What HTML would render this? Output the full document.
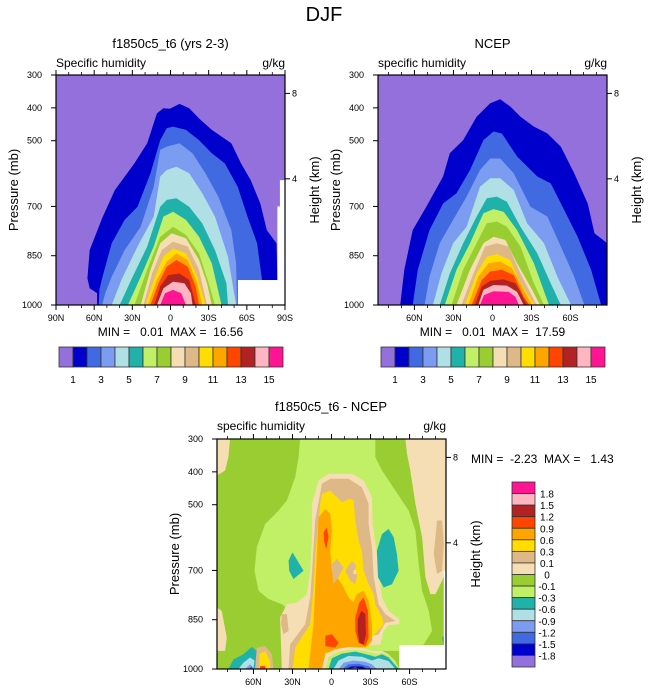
<!DOCTYPE html>
<html><head><meta charset="utf-8">
<style>
html,body{margin:0;padding:0;background:#fff;}
svg{display:block;font-family:"Liberation Sans",Arial,sans-serif;}
</style></head>
<body>
<svg id="chart" width="648" height="694" viewBox="0 0 648 694" xmlns="http://www.w3.org/2000/svg">
<defs>
<clipPath id="clipTL"><rect x="56" y="75" width="229" height="230"/></clipPath>
<clipPath id="clipTR"><rect x="378" y="75" width="229" height="230"/></clipPath>
<clipPath id="clipDF"><rect x="217" y="439" width="229" height="230"/></clipPath>
</defs>
<text x="324" y="21" font-size="20" text-anchor="middle">DJF</text>
</svg>
<script>
// ---------- data ----------
const colors = ["#9370DB","#0000CD","#4169E1","#7B9CF0","#B0E0E6","#20B2AA","#C1EF66","#9ACD32","#F5DEB3","#DEB887","#FFDD00","#FFA500","#FF4500","#B22222","#FFB6C1","#FF1493"];
const topLevelLabels = ["1","3","5","7","9","11","13","15"];
const topLevelLabelIdx = [1,3,5,7,9,11,13,15];
const diffLevelLabels = ["1.8","1.5","1.2","0.9","0.6","0.3","0.1","0","-0.1","-0.3","-0.6","-0.9","-1.2","-1.5","-1.8"];
const pressureTicks = [300,400,500,700,850,1000];
const heightTicks = ["8","4"];
const heightTickP = [356,616];
const latTicksTL = [90,60,30,0,-30,-60,-90];
const latLabelsTL = ["90N","60N","30N","0","30S","60S","90S"];
const latTicksNC = [60,30,0,-30,-60];
const latLabelsNC = ["60N","30N","0","30S","60S"];
const minorLat = [80,70,50,40,20,10,-10,-20,-40,-50,-70,-80];

// model: boundary of each level k (region >= k), [lat, pressure]
const tlLevels = [
 [[57.7,1000],[57.7,964],[63.5,949],[65.3,919],[63.5,833],[53.8,736],[43.7,650],[28.4,569],[18.3,508],[10.7,417],[5.6,401],[0.5,403],[-7.1,388],[-14.7,401],[-22.4,432],[-32.5,467],[-47.8,508],[-55.4,569],[-63,620],[-70.6,691],[-75.7,772],[-83.3,812],[-84.6,1000]],
 [[56.4,1000],[55.9,954],[53.8,919],[46.2,812],[36.1,741],[25.9,701],[15.7,599],[8.1,498],[3,462],[-2,457],[-12.2,467],[-22.4,498],[-32.5,538],[-42.7,569],[-52.8,640],[-60.5,731],[-68.1,812],[-71.9,924],[-73.2,1000]],
 [[53.8,1000],[51.3,964],[46.2,914],[36.1,833],[23.4,762],[13.2,640],[8.1,528],[3,518],[-7.1,508],[-17.3,538],[-27.4,599],[-37.6,670],[-47.8,772],[-51.6,873],[-52.3,1000]],
 [[46.2,1000],[38.6,924],[25.9,822],[13.2,731],[8.1,609],[3,589],[-4.6,579],[-14.7,599],[-24.9,660],[-35,731],[-45.2,853],[-51.6,1000]],
 [[39.9,1000],[31,924],[18.3,822],[8.1,701],[3,680],[-4.6,675],[-14.7,701],[-24.9,751],[-35,833],[-43.9,934],[-45.2,1000]],
 [[33.5,1000],[23.4,914],[13.2,822],[5.6,731],[-2,716],[-12.2,741],[-22.4,792],[-32.5,873],[-40.1,1000]],
 [[28.4,1000],[18.3,893],[8.1,792],[-2,762],[-12.2,787],[-22.4,843],[-30,934],[-35,1000]],
 [[23.4,1000],[15.7,893],[8.1,812],[-0.8,782],[-12.2,797],[-22.4,863],[-28.7,934],[-32.5,1000]],
 [[21.3,1000],[14.5,904],[6.9,833],[-2,807],[-13.5,822],[-22.4,893],[-28.7,1000]],
 [[19.6,1000],[13.2,924],[5.6,853],[-2,828],[-12.2,843],[-21.1,914],[-27.4,1000]],
 [[17.8,1000],[10.7,924],[3,868],[-4.6,843],[-13.5,863],[-21.1,934],[-24.9,1000]],
 [[15.7,1000],[9.4,934],[3,883],[-4.6,863],[-13.5,883],[-19.8,944],[-22.4,1000]],
 [[12.7,1000],[8.1,944],[1.8,909],[-7.1,904],[-14.7,924],[-19.8,1000]],
 [[10.7,1000],[5.6,949],[-2,929],[-10.9,934],[-16,964],[-17.3,1000]],
 [[8.1,1000],[4.3,964],[-2,954],[-8.4,964],[-12.2,1000]]
];
// NCEP
const trLevels = [
 [[70.9,1000],[67.8,893],[61.3,772],[50.9,701],[38,609],[32.8,538],[22.5,498],[12.2,427],[1.8,386],[-5.9,374],[-13.7,396],[-21.5,427],[-31.8,457],[-42.2,478],[-52.5,518],[-62.8,599],[-73.2,691],[-78.4,782],[-84.9,802],[-88,812],[-88,1000]],
 [[61.3,1000],[57.4,893],[48.4,772],[38,691],[27.7,660],[17.3,589],[7,498],[-0.8,472],[-7.2,478],[-18.9,548],[-34.4,609],[-44.7,630],[-55.1,711],[-65.4,792],[-75.8,893],[-83.5,1000]],
 [[52.2,1000],[48.4,914],[40.6,812],[30.3,741],[19.9,670],[9.6,589],[1.8,554],[-5.9,554],[-16.3,599],[-29.2,701],[-42.2,731],[-52.5,822],[-62.8,914],[-70.6,1000]],
 [[45.8,1000],[39.3,904],[30.3,812],[19.9,762],[9.6,640],[1.8,614],[-5.9,614],[-16.3,650],[-26.6,751],[-39.6,812],[-49.9,914],[-60.3,1000]],
 [[40.6,1000],[32.8,904],[22.5,812],[12.2,731],[4.4,675],[-3.4,670],[-11.1,686],[-21.5,762],[-34.4,843],[-44.7,934],[-52.5,1000]],
 [[36.7,1000],[27.7,893],[17.3,812],[7,721],[-0.8,708],[-8.5,716],[-18.9,772],[-31.8,873],[-43.4,1000]],
 [[31.5,1000],[22.5,893],[12.2,812],[4.4,751],[-3.4,746],[-11.1,762],[-21.5,822],[-31.8,934],[-39.6,1000]],
 [[27.7,1000],[17.3,893],[7,812],[-0.8,792],[-9.8,802],[-18.9,873],[-30,950],[-36.5,1000]],
 [[23.8,1000],[14.7,904],[5.7,822],[-3.4,812],[-12.4,822],[-21.5,904],[-33.9,1000]],
 [[21.2,1000],[12.2,904],[4.4,853],[-3.4,845],[-13.7,863],[-21.5,934],[-32.3,1000]],
 [[18.6,1000],[10.9,914],[3.1,873],[-5.9,868],[-15,888],[-24,954],[-30.5,1000]],
 [[16,1000],[8.3,924],[1.8,898],[-7.2,893],[-16.3,909],[-24,975],[-28.4,1000]],
 [[13.4,1000],[8.3,944],[1.8,926],[-8.5,922],[-17.6,934],[-26.6,1000]],
 [[10.9,1000],[7,954],[-0.8,939],[-11.1,941],[-18.9,960],[-24,1000]],
 [[9.6,1000],[6.5,970],[-0.8,958],[-12.4,960],[-17.6,975],[-20.2,1000]]
];
// difference: background color index, then filled regions (color index + polygon in [lat,p])
const diffBackground = 7;
const diffRegionColor = [6,8,8,9,8,8,9,9,10,11,11,12,13,12,12,9,9,8,5,5,5,8,6,5,4,3,2,1,0,5,4,3,2,9,10,12];
const diffRegions = [
 [[24.1,300],[-33.7,300],[-33.7,355],[-38.8,396],[-49.1,457],[-59.3,518],[-64.5,579],[-67,681],[-69.6,762],[-74.7,823],[-77.3,884],[-70.9,925],[-54.2,945],[12.5,945],[17.7,874],[27.9,833],[38.2,803],[48.4,787],[56.1,762],[59.2,701],[57.4,630],[51,559],[40.7,518],[34.3,487],[27.9,416],[25.3,355]],
 [[88,300],[78,300],[79.2,355],[81.8,396],[88,411]],
 [[-56.8,300],[-88,300],[-88,701],[-85,731],[-79.9,772],[-76,772],[-72.2,721],[-69.6,599],[-64.5,497],[-60.6,396],[-58,345]],
 [[-81.1,548],[-85,548],[-86.3,620],[-85,701],[-81.1,711],[-78.6,650]],
 [[88,813],[84.4,823],[80.5,904],[81.8,945],[88,945]],
 [[15.1,497],[9.9,426],[2.3,406],[-15.7,406],[-24.7,426],[-31.1,477],[-31.6,559],[-34.2,630],[-36.7,721],[-38.8,782],[-43.9,823],[-52.1,848],[-52.1,864],[-43.9,866],[-40.1,884],[-37.5,925],[2.3,945],[7.4,1000],[38.2,1000],[39.5,843],[34.3,803],[26.6,798],[18.9,772],[16.4,701],[15.1,599]],
 [[12.5,548],[7.4,436],[1,421],[-13.1,421],[-23.4,447],[-28.5,497],[-28.5,559],[-31.1,630],[-32.4,721],[-36.2,803],[-41.4,833],[-49.1,854],[-41.4,859],[-36.2,894],[4.8,945],[9.9,1000],[33,1000],[31.8,925],[20.2,864],[16.4,782],[14.6,681]],
 [[38.2,833],[34.3,833],[33,884],[36.9,894],[38.7,864]],
 [[12.5,650],[8.7,497],[7.4,467],[1,457],[-8,492],[-14.4,482],[-17,487],[-18.3,548],[-20.8,609],[-23.4,640],[-24.7,701],[-28.5,742],[-32.4,772],[-33.7,803],[-38.8,843],[-40.1,864],[-31.1,904],[-28.5,935],[-8,935],[6.1,965],[7.4,1000],[30,1000],[27.9,935],[16.4,864],[13.8,752]],
 [[9.9,538],[4.8,513],[1,528],[-0.3,579],[1,640],[-0.3,701],[-8,742],[-13.1,782],[-18.3,803],[-18.3,864],[-24.7,904],[-28.5,925],[-20.8,940],[4.8,950],[6.1,1000],[17.7,1000],[13.8,864],[12.5,752],[11.2,650]],
 [[-15.7,803],[-19.6,772],[-24.7,762],[-28.5,792],[-31.1,864],[-31.1,915],[-26,935],[-18.3,925],[-14.4,884],[-13.1,843]],
 [[-18.3,843],[-21.4,798],[-24.7,782],[-28,823],[-28.5,904],[-26,930],[-20.8,920],[-18.3,884]],
 [[-20.3,848],[-22.9,823],[-26,833],[-26.5,894],[-24.7,925],[-21.4,920],[-20.3,884]],
 [[6.1,584],[3.5,569],[2.3,599],[4.1,635],[5.8,609]],
 [[4.8,899],[-0.3,894],[-5.4,920],[-2.9,935],[4.8,930]],
 [[-0.3,681],[-4.2,665],[-9.3,691],[-5.4,721],[-1.6,742],[-0.8,711]],
 [[-10.6,701],[-15.7,670],[-18.3,681],[-19.6,721],[-18.3,742],[-14.4,731]],
 [[-17,701],[-18.8,696],[-19,711],[-17,711]],
 [[33,670],[30,645],[25.3,676],[21.5,701],[29.2,726],[32.5,701]],
 [[-34.9,640],[-38.8,589],[-43.9,574],[-47.8,599],[-50.3,650],[-51.6,701],[-46.5,742],[-40.1,752],[-35.7,721]],
 [[-85,904],[-88,894],[-88,935],[-86.3,935]],
 [[7.4,1000],[4.8,955],[-2.9,940],[-13.1,933],[-23.4,935],[-31.1,945],[-38.8,945],[-43.9,955],[-49.1,976],[-52.1,1000]],
 [[4.8,1000],[2.3,963],[-5.4,947],[-15.7,941],[-26,945],[-33.7,953],[-40.1,951],[-45.2,961],[-50.3,986],[-52.1,1000]],
 [[2.3,1000],[-0.3,967],[-8,953],[-18.3,947],[-28.5,957],[-33.7,963],[-38.8,955],[-43.9,965],[-50.3,994],[-52.1,1000]],
 [[-1.6,1000],[-5.4,974],[-13.1,960],[-23.4,963],[-31.1,974],[-36.2,967],[-43.9,976],[-49.1,1000]],
 [[-5.4,1000],[-9.3,981],[-17,974],[-26,978],[-31.1,986],[-34.9,1000]],
 [[-8,1000],[-13.1,986],[-20.8,984],[-28.5,992],[-31.1,1000]],
 [[-10.6,1000],[-15.7,992],[-23.4,992],[-27.3,1000]],
 [[-13.1,1000],[-18.3,995],[-22.1,1000]],
 [[79.2,1000],[75.4,971],[67.7,955],[61.3,933],[57.4,945],[58.7,1000]],
 [[71.5,1000],[67.7,981],[62.6,965],[59.2,974],[60,1000]],
 [[66.4,1000],[62.6,986],[60,996],[60.8,1000]],
 [[63.8,1000],[61.3,992],[60.3,1000]],
 [[57.4,935],[51,930],[45.9,955],[44.6,1000],[58.7,1000]],
 [[55.6,955],[51,945],[47.2,976],[47.2,1000],[55.6,1000]],
 [[54.9,991],[51,991],[50.5,1000],[54.9,1000]]
];
// missing-data masks [latA, latB, pTop, pBottom]
const tlMissing = [[-53,-90,924,1000],[-86,-90,620,924],[-84,-90,700,924]];
const dfMissing = [[-52.1,-88,927,1000],[-86.3,-88,701,927]];

// ---------- rendering ----------
const NS = "http://www.w3.org/2000/svg";
const svg = document.getElementById('chart');
function el(tag, attrs, parent){
  const e = document.createElementNS(NS, tag);
  for (const k in attrs) e.setAttribute(k, attrs[k]);
  (parent || svg).appendChild(e);
  return e;
}
function txt(str, x, y, size, anchor, name, parent){
  const t = el('text', {x:x, y:y, 'font-size':size, 'text-anchor':anchor||'start'}, parent);
  t.textContent = str;
  
  
  return t;
}
function makeAxes(f){
  return {
    x: lat => f.x0 + (f.latN - lat) / (f.latN - f.latS) * (f.x1 - f.x0),
    y: p => f.y0 + (p - 300) / 700 * (f.y1 - f.y0)
  };
}
function polyStr(pts, ax){ return pts.map(q => ax.x(q[0]).toFixed(1) + ',' + ax.y(q[1]).toFixed(1)).join(' '); }

function drawFrame(f, ax, g, latTicks, latLabels, prefix){
  el('rect', {x:f.x0, y:f.y0, width:f.x1-f.x0, height:f.y1-f.y0, fill:'none', stroke:'#000', 'stroke-width':1.2}, g);
  // x ticks
  latTicks.forEach((lat, i) => {
    const x = ax.x(lat);
    el('line', {x1:x, y1:f.y1, x2:x, y2:f.y1+5, stroke:'#000', 'stroke-width':1}, g);
    el('line', {x1:x, y1:f.y0, x2:x, y2:f.y0-5, stroke:'#000', 'stroke-width':1}, g);
    txt(latLabels[i], x, f.y1+16, 9, 'middle', prefix + '-x-tick-label', g);
  });
  minorLat.forEach(lat => {
    if (lat > f.latN || lat < f.latS) return;
    const x = ax.x(lat);
    el('line', {x1:x, y1:f.y1, x2:x, y2:f.y1+3, stroke:'#000', 'stroke-width':0.8}, g);
    el('line', {x1:x, y1:f.y0, x2:x, y2:f.y0-3, stroke:'#000', 'stroke-width':0.8}, g);
  });
  pressureTicks.forEach(p => {
    const y = ax.y(p);
    el('line', {x1:f.x0-5, y1:y, x2:f.x0, y2:y, stroke:'#000', 'stroke-width':1}, g);
    txt(String(p), f.x0-14, y+3, 9, 'end', prefix + '-y-tick-label', g);
  });
  heightTicks.forEach((h, i) => {
    const y = ax.y(heightTickP[i]);
    el('line', {x1:f.x1, y1:y, x2:f.x1+5, y2:y, stroke:'#000', 'stroke-width':1}, g);
    txt(h, f.x1+7, y+3, 9, 'start', prefix + '-height-tick-label', g);
  });
  const ly = (f.y0+f.y1)/2;
  const t1 = txt('Pressure (mb)', 0, 0, 13, 'middle', prefix + '-y-axis-title', g);
  t1.setAttribute('transform', `translate(${f.x0-38},${ly}) rotate(-90)`);
  const t2 = txt('Height (km)', 0, 0, 13, 'middle', prefix + '-height-axis-title', g);
  t2.setAttribute('transform', `translate(${f.x1+34},${ly}) rotate(-90)`);
}

function drawTopPanel(f, levels, clipId, prefix, title, sub, minmax, cbX){
  const ax = makeAxes(f);
  const g = el('g', {});
  
  
  const fills = el('g', {'clip-path':'url(#' + clipId + ')'}, g);
  el('rect', {x:f.x0, y:f.y0, width:f.x1-f.x0, height:f.y1-f.y0, fill:colors[0]}, fills);
  levels.forEach((lv, k) => {
    const p = el('polygon', {points: polyStr(lv, ax), fill: colors[k+1]}, fills);
    
    
  });
  if (prefix === 'model') tlMissing.forEach(m => {
    const r = el('rect', {x:ax.x(m[0]), y:ax.y(m[2]), width:ax.x(m[1])-ax.x(m[0]), height:ax.y(m[3])-ax.y(m[2]), fill:'#fff'}, fills);
    
    
  });
  drawFrame(f, ax, g, prefix === 'model' ? latTicksTL : latTicksNC, prefix === 'model' ? latLabelsTL : latLabelsNC, prefix);
  const cx = (f.x0+f.x1)/2;
  txt(title, cx, 48, 13, 'middle', prefix + '-title', g);
  txt(sub, f.x0, 67, 12, 'start', prefix + '-variable-label', g);
  txt('g/kg', f.x1, 67, 12, 'end', prefix + '-units-label', g);
  const mm = txt(minmax, cx, 336, 12, 'middle', prefix + '-min-max', g);
  mm.setAttribute('xml:space', 'preserve');
  mm.style.whiteSpace = 'pre';
  // colorbar
  const cb = el('g', {}, g);
  
  
  const bw = 14;
  colors.forEach((c, i) => {
    const r = el('rect', {x:cbX + i*bw, y:347, width:bw, height:20, fill:c, stroke:'#333', 'stroke-width':0.8}, cb);
    
    
  });
  topLevelLabels.forEach((l, i) => {
    txt(l, cbX + topLevelLabelIdx[i]*bw, 383, 10, 'middle', 'colorbar-label', cb);
  });
}

drawTopPanel({x0:56,x1:285,y0:75,y1:305,latN:90,latS:-90}, tlLevels, 'clipTL', 'model',
  'f1850c5_t6 (yrs 2-3)', 'Specific humidity', 'MIN =   0.01  MAX =  16.56', 59);
drawTopPanel({x0:378,x1:607,y0:75,y1:305,latN:88,latS:-88}, trLevels, 'clipTR', 'ncep',
  'NCEP', 'specific humidity', 'MIN =   0.01  MAX =  17.59', 381);

// difference panel
(function(){
  const f = {x0:217,x1:446,y0:439,y1:669,latN:88,latS:-88};
  const ax = makeAxes(f);
  const g = el('g', {});
  
  
  const fills = el('g', {'clip-path':'url(#clipDF)'}, g);
  el('rect', {x:f.x0, y:f.y0, width:f.x1-f.x0, height:f.y1-f.y0, fill:colors[diffBackground]}, fills);
  diffRegions.forEach((pts, i) => {
    const p = el('polygon', {points: polyStr(pts, ax), fill: colors[diffRegionColor[i]]}, fills);
    
    
  });
  dfMissing.forEach(m => {
    const r = el('rect', {x:ax.x(m[0]), y:ax.y(m[2]), width:ax.x(m[1])-ax.x(m[0]), height:ax.y(m[3])-ax.y(m[2]), fill:'#fff'}, fills);
    
    
  });
  drawFrame(f, ax, g, latTicksNC, latLabelsNC, 'diff');
  txt('f1850c5_t6 - NCEP', 331, 411, 13, 'middle', 'diff-title', g);
  txt('specific humidity', f.x0, 430, 12, 'start', 'diff-variable-label', g);
  txt('g/kg', f.x1, 430, 12, 'end', 'diff-units-label', g);
  const mm = txt('MIN =  -2.23  MAX =   1.43', 471, 463, 12, 'start', 'diff-min-max', g);
  mm.style.whiteSpace = 'pre';
  const cb = el('g', {}, g);
  
  
  const bh = 185/16;
  for (let i = 0; i < 16; i++) {
    const r = el('rect', {x:512, y:482 + i*bh, width:23, height:bh, fill:colors[15-i], stroke:'#333', 'stroke-width':0.8}, cb);
    
    
  }
  diffLevelLabels.forEach((l, i) => {
    txt(l, 547, 482 + (i+1)*bh + 4, 10, 'middle', 'colorbar-label', cb);
  });
})();
</script>
</body></html>
